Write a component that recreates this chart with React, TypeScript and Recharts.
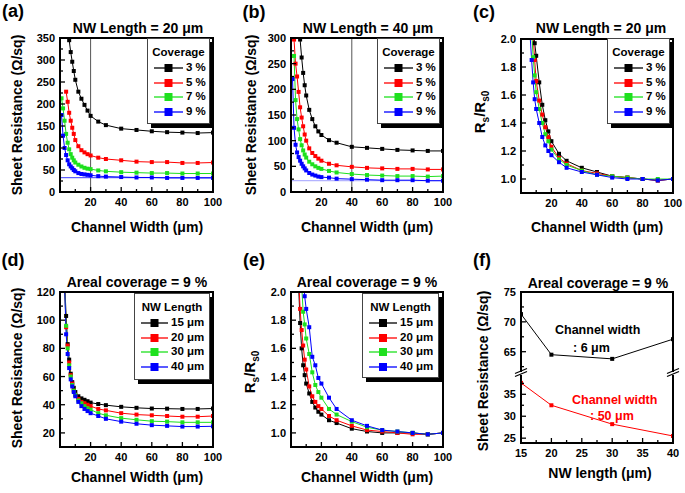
import React from "react";
import { LineChart, Line, XAxis, YAxis, ReferenceLine } from "recharts";

const FONT = "'Liberation Sans', Arial, Helvetica, sans-serif";
const _ = null;

// channel widths (um) used in panels a-e
const widths = [1, 2, 3, 4, 5, 6, 7, 8, 9, 10, 12, 14, 16, 18, 20, 25, 30, 40, 50, 60, 70, 80, 90, 100];

// (a) NW length 20 um, sheet resistance (ohm/sq) per coverage
const cov3A = [_, _, _, _, _, 345, 318, 296, 275, 255, 228, 212, 198, 185, 173, 160, 152, 144, 141, 138, 136, 135, 134, 135];
const cov5A = [_, _, _, 228, 205, 180, 162, 146, 132, 118, 104, 95, 90, 86, 83, 78, 75, 72, 69, 68, 68, 66, 66, 67];
const cov7A = [213, 190, 162, 132, 112, 97, 86, 78, 72, 67, 62, 58, 55, 53, 52, 49, 47, 45, 44, 43, 43, 42, 42, 42];
const cov9A = [175, 128, 100, 84, 72, 63, 58, 54, 50, 47, 43, 41, 40, 39, 38, 36, 35, 34, 33, 33, 32, 32, 32, 32];

// (b) NW length 40 um
const cov3B = [_, _, _, _, _, 297, 262, 232, 208, 188, 160, 142, 128, 118, 111, 101, 96, 88, 86, 84, 82, 81, 80, 80];
const cov5B = [_, 297, 250, 225, 195, 165, 145, 128, 112, 100, 85, 76, 70, 65, 61, 55, 52, 49, 47, 46, 45, 45, 44, 44];
const cov7B = [_, 265, 179, 142, 122, 103, 91, 81, 73, 67, 59, 54, 50, 47, 45, 41, 38, 35, 33, 32, 31, 31, 30, 31];
const cov9B = [220, 125, 92, 77, 68, 61, 55, 50, 46, 42, 37, 34, 32, 30, 29, 28, 26, 25, 24, 23, 23, 23, 22, 22];

// (c) Rs/Rs0, NW length 20 um
const ratio3C = [_, _, _, _, _, _, _, 2.05, 1.97, 1.88, 1.69, 1.53, 1.42, 1.34, 1.27, 1.18, 1.13, 1.08, 1.05, 1.02, 1.01, 1.0, 0.99, 1.0];
const ratio5C = [_, _, _, _, _, _, _, 2.02, 1.85, 1.7, 1.56, 1.46, 1.37, 1.3, 1.23, 1.15, 1.11, 1.06, 1.04, 1.02, 1.01, 1.0, 0.99, 1.0];
const ratio7C = [_, _, _, _, _, _, 2.05, 1.87, 1.74, 1.62, 1.5, 1.4, 1.32, 1.27, 1.21, 1.14, 1.1, 1.06, 1.03, 1.02, 1.01, 1.0, 1.0, 1.0];
const ratio9C = [_, _, _, _, _, 2.02, 1.85, 1.69, 1.57, 1.5, 1.4, 1.3, 1.24, 1.2, 1.17, 1.12, 1.08, 1.05, 1.03, 1.01, 1.0, 1.0, 0.99, 1.0];

// (d) areal coverage 9 %, sheet resistance per NW length
const len15D = [_, _, 128, 103, 83, 72, 62, 56, 52, 49, 46, 44.5, 43.5, 42.5, 41.5, 40.5, 39.7, 38.5, 37.8, 37.3, 37.2, 37, 37, 37.3];
const len20D = [_, _, 126, 95, 82, 70, 61, 55, 50, 47, 44, 42, 41, 40, 39, 37, 36, 34, 33, 32.5, 32, 31.5, 31.5, 32];
const len30D = [_, _, 125, 96, 80, 68, 60, 54, 50, 47, 43, 41, 39, 37.5, 36.5, 34, 32.5, 30.5, 29.3, 28.3, 28, 27.5, 27.5, 27.5];
const len40D = [_, _, 124, 90, 76, 66, 58, 53, 49, 46, 42, 39, 37, 35.5, 34, 32, 30, 28, 26.5, 25.5, 25, 24.5, 24.5, 24.7];

// (e) Rs/Rs0, areal coverage 9 %
const ratio15E = [_, _, _, _, 2.05, 1.78, 1.6, 1.48, 1.41, 1.35, 1.28, 1.22, 1.18, 1.15, 1.13, 1.09, 1.07, 1.03, 1.01, 1.0, 1.0, 1.0, 0.99, 1.0];
const ratio20E = [_, _, _, _, 2.1, 1.88, 1.73, 1.62, 1.52, 1.45, 1.33, 1.26, 1.22, 1.19, 1.17, 1.12, 1.09, 1.05, 1.02, 1.01, 1.0, 0.99, 0.99, 1.0];
const ratio30E = [_, _, _, _, _, _, 2.05, 1.86, 1.77, 1.67, 1.56, 1.43, 1.34, 1.29, 1.25, 1.17, 1.13, 1.08, 1.04, 1.02, 1.01, 1.0, 0.99, 1.0];
const ratio40E = [_, _, _, _, _, _, _, 2.1, 1.97, 1.88, 1.75, 1.54, 1.48, 1.39, 1.35, 1.25, 1.17, 1.09, 1.05, 1.02, 1.01, 1.0, 0.99, 1.0];

// (f) sheet resistance vs NW length
const nwLength = [15, 20, 30, 40];
const rsWidth6 = [71.3, 64.5, 63.8, 67.1];
const rsWidth50 = [37.6, 32.5, 28.2, 25.5];

// reference lines in a and b
const rs0LineA = 32.5;
const rs0LineB = 22;

// labels
const coverageLabels = ["3 %", "5 %", "7 %", "9 %"];
const lengthLabels = ["15 \u03bcm", "20 \u03bcm", "30 \u03bcm", "40 \u03bcm"];
const colors = ["#000000", "#ff0000", "#1ee01e", "#0000ff"];

// ticks
const xTicksW = [10, 20, 30, 40, 50, 60, 70, 80, 90, 100];
const xMajorW = [20, 40, 60, 80, 100];
const yTicksA = [0, 25, 50, 75, 100, 125, 150, 175, 200, 225, 250, 275, 300, 325, 350];
const yMajorA = [0, 50, 100, 150, 200, 250, 300, 350];
const yTicksB = [0, 25, 50, 75, 100, 125, 150, 175, 200, 225, 250, 275, 300];
const yMajorB = [0, 50, 100, 150, 200, 250, 300];
const yTicksR = [1.0, 1.1, 1.2, 1.3, 1.4, 1.5, 1.6, 1.7, 1.8, 1.9, 2.0];
const yMajorR = [1.0, 1.2, 1.4, 1.6, 1.8, 2.0];
const yTicksD = [20, 30, 40, 50, 60, 70, 80, 90, 100, 110, 120];
const yMajorD = [20, 40, 60, 80, 100, 120];
const xTicksF = [15, 17.5, 20, 22.5, 25, 27.5, 30, 32.5, 35, 37.5, 40];
const xMajorF = [15, 20, 25, 30, 35, 40];
const yTicksFUp = [62.5, 65, 67.5, 70, 72.5, 75];
const yMajorFUp = [65, 70, 75];
const yTicksFLo = [25, 27.5, 30, 32.5, 35, 37.5];
const yMajorFLo = [25, 30, 35];

type Series = { key: string; color: string; values: (number | null)[] };

const makeSeries = (vals: (number | null)[][]): Series[] =>
  vals.map((v, i) => ({ key: "s" + i, color: colors[i], values: v }));

const XTick = (p: any) => {
  const v = p.payload.value;
  const major = p.majors.includes(v);
  return (
    <g>
      <line x1={p.x} x2={p.x} y1={p.axisY} y2={p.axisY - (major ? 5 : 3)} stroke="#000" strokeWidth={1.3} />
      {major && (
        <text x={p.x} y={p.axisY + 13.5} textAnchor="middle" fontSize={11} fontWeight="bold" fontFamily={FONT} fill="#000">
          {v}
        </text>
      )}
    </g>
  );
};

const YTick = (p: any) => {
  const v = p.payload.value;
  const major = p.majors.includes(v);
  return (
    <g>
      <line x1={p.axisX} x2={p.axisX + (major ? 5 : 3)} y1={p.y} y2={p.y} stroke="#000" strokeWidth={1.3} />
      {major && (
        <text x={p.axisX - 5} y={p.y + 4} textAnchor="end" fontSize={11} fontWeight="bold" fontFamily={FONT} fill="#000">
          {p.fmt ? p.fmt(v) : v}
        </text>
      )}
    </g>
  );
};

const squareDot = (color: string, size: number) => (p: any) => {
  if (p.cx == null || p.cy == null || p.payload == null) return <g key={"d" + p.index} />;
  return <rect key={"d" + p.index} x={p.cx - size / 2} y={p.cy - size / 2} width={size} height={size} fill={color} />;
};

interface Box { left: number; top: number; w: number; h: number }

interface PanelProps {
  box: Box;
  xs: number[];
  series: Series[];
  xDomain: [number, number];
  yDomain: [number, number];
  xTicks: number[];
  xMajor: number[];
  yTicks: number[];
  yMajor: number[];
  yFmt?: (v: number) => string;
  hideX?: boolean;
  clip?: boolean;
  refX?: number;
  refY?: number;
  refYColor?: string;
  frame?: "full" | "upper" | "lower";
  dotSize?: number;
}

function Panel(props: PanelProps) {
  const { box, xs, series, xDomain, yDomain, xTicks, xMajor, yTicks, yMajor, yFmt, hideX = false, clip = false, refX, refY, refYColor, frame = "full", dotSize = 4 } = props;
  const YW = 36, MT = 6, MR = 14, XH = hideX ? 0 : 24;
  const data = xs.map((x, i) => {
    const row: any = { x };
    series.forEach((s) => (row[s.key] = s.values[i]));
    return row;
  });
  const axisY = MT + box.h;
  const border = "2px solid #000";
  const frameStyle: React.CSSProperties = {
    position: "absolute",
    left: box.left - 1,
    top: frame === "lower" ? box.top : box.top - 1,
    width: box.w + 2,
    height: frame === "full" ? box.h + 2 : box.h + 1,
    borderLeft: border,
    borderRight: border,
    borderTop: frame === "lower" ? "none" : border,
    borderBottom: frame === "upper" ? "none" : border,
    boxSizing: "border-box",
  };
  return (
    <>
      <div style={{ position: "absolute", left: box.left - YW, top: box.top - MT }}>
        <LineChart width={YW + box.w + MR} height={MT + box.h + XH} data={data} margin={{ top: MT, right: MR, left: 0, bottom: 0 }}>
          <XAxis
            type="number"
            dataKey="x"
            domain={xDomain}
            ticks={xTicks}
            interval={0}
            hide={hideX}
            height={XH}
            axisLine={false}
            tickLine={false}
            tickSize={0}
            tick={<XTick axisY={axisY} majors={xMajor} />}
            allowDataOverflow
          />
          <YAxis
            type="number"
            domain={yDomain}
            ticks={yTicks}
            interval={0}
            width={YW}
            axisLine={false}
            tickLine={false}
            tickSize={0}
            tick={<YTick axisX={YW} majors={yMajor} fmt={yFmt} />}
            allowDataOverflow={clip}
          />
          {refX !== undefined && <ReferenceLine x={refX} stroke="#555" strokeWidth={1} />}
          {refY !== undefined && <ReferenceLine y={refY} stroke={refYColor} strokeWidth={1} />}
          {series.map((s) => (
            <Line
              key={s.key}
              dataKey={s.key}
              type="linear"
              stroke={s.color}
              strokeWidth={1}
              dot={squareDot(s.color, dotSize)}
              isAnimationActive={false}
              connectNulls={false}
            />
          ))}
        </LineChart>
      </div>
      <div style={frameStyle} />
    </>
  );
}

function Txt({ x, y, children, size = 14, rotate = false, color = "#000", center = true }: any) {
  return (
    <div
      style={{
        position: "absolute",
        left: x,
        top: y,
        transform: center ? `translate(-50%, -50%)${rotate ? " rotate(-90deg)" : ""}` : "translateY(-50%)",
        fontSize: size,
        fontWeight: "bold",
        fontFamily: FONT,
        whiteSpace: "nowrap",
        lineHeight: 1,
        color,
      }}
    >
      {children}
    </div>
  );
}

function LegendBox({ left, top, w, h, title, labels, lineL, lineR, textX }: any) {
  return (
    <div
      style={{
        position: "absolute",
        left,
        top,
        width: w,
        height: h,
        background: "#fff",
        border: "1px solid #444",
        boxShadow: "4px 4px 0 #000",
        boxSizing: "border-box",
        fontFamily: FONT,
        fontWeight: "bold",
        fontSize: 11.5,
      }}
    >
      <div style={{ position: "absolute", left: 0, right: 0, top: 14, transform: "translateY(-50%)", textAlign: "center", lineHeight: 1 }}>{title}</div>
      {labels.map((lab: string, i: number) => {
        const cy = 29 + i * 14.5;
        const lw = lineR - lineL;
        return (
          <React.Fragment key={lab}>
            <svg style={{ position: "absolute", left: lineL, top: cy - 5 }} width={lw} height={10}>
              <line x1={0} x2={lw} y1={5} y2={5} stroke={colors[i]} strokeWidth={1.3} />
              <rect x={lw / 2 - 4} y={1} width={8} height={8} fill={colors[i]} />
            </svg>
            <div style={{ position: "absolute", left: textX, top: cy, transform: "translateY(-50%)", lineHeight: 1 }}>{lab}</div>
          </React.Fragment>
        );
      })}
    </div>
  );
}

const ratioFmt = (v: number) => v.toFixed(1);
const RsRatio = () => (
  <span>
    R<sub style={{ fontSize: 10 }}>s</sub>/R<sub style={{ fontSize: 10 }}>s0</sub>
  </span>
);
const sheetTitle = "Sheet Resistance (\u03a9/sq)";
const widthTitle = "Channel Width (\u03bcm)";

export default function App() {
  return (
    <div style={{ position: "absolute", left: 0, top: 0, width: 685, height: 493, background: "#fff", overflow: "hidden", fontFamily: FONT }}>
      {/* panel labels */}
      <Txt x={13} y={11} size={18}>(a)</Txt>
      <Txt x={254} y={12} size={18}>(b)</Txt>
      <Txt x={484} y={12} size={18}>(c)</Txt>
      <Txt x={13} y={260} size={18}>(d)</Txt>
      <Txt x={254} y={260} size={18}>(e)</Txt>
      <Txt x={482} y={260} size={18}>(f)</Txt>

      {/* (a) */}
      <Txt x={138} y={28}>NW Length = 20 {"\u03bc"}m</Txt>
      <Panel
        box={{ left: 60, top: 38, w: 153, h: 154 }}
        xs={widths}
        series={makeSeries([cov3A, cov5A, cov7A, cov9A])}
        xDomain={[0, 100]}
        yDomain={[0, 350]}
        xTicks={xTicksW}
        xMajor={xMajorW}
        yTicks={yTicksA}
        yMajor={yMajorA}
        refX={20}
        refY={rs0LineA}
        refYColor="#3a3aff"
      />
      <LegendBox left={147} top={38} w={63} h={86} title="Coverage" labels={coverageLabels} lineL={6} lineR={35} textX={38} />
      <Txt x={17} y={115} rotate>{sheetTitle}</Txt>
      <Txt x={137} y={227}>{widthTitle}</Txt>

      {/* (b) */}
      <Txt x={368} y={28}>NW Length = 40 {"\u03bc"}m</Txt>
      <Panel
        box={{ left: 291, top: 38, w: 152, h: 154 }}
        xs={widths}
        series={makeSeries([cov3B, cov5B, cov7B, cov9B])}
        xDomain={[0, 100]}
        yDomain={[0, 300]}
        xTicks={xTicksW}
        xMajor={xMajorW}
        yTicks={yTicksB}
        yMajor={yMajorB}
        refX={40}
        refY={rs0LineB}
        refYColor="#a0a0ff"
      />
      <LegendBox left={377} top={38} w={63} h={86} title="Coverage" labels={coverageLabels} lineL={6} lineR={35} textX={38} />
      <Txt x={251} y={115} rotate>{sheetTitle}</Txt>
      <Txt x={367} y={227}>{widthTitle}</Txt>

      {/* (c) */}
      <Txt x={601} y={28}>NW Length = 20 {"\u03bc"}m</Txt>
      <Panel
        box={{ left: 521, top: 39, w: 152, h: 154 }}
        xs={widths}
        series={makeSeries([ratio3C, ratio5C, ratio7C, ratio9C])}
        xDomain={[0, 100]}
        yDomain={[0.9, 2.0]}
        xTicks={xTicksW}
        xMajor={xMajorW}
        yTicks={yTicksR}
        yMajor={yMajorR}
        yFmt={ratioFmt}
        clip
      />
      <LegendBox left={607} top={38} w={63} h={86} title="Coverage" labels={coverageLabels} lineL={6} lineR={35} textX={38} />
      <Txt x={481} y={112} size={15} rotate><RsRatio /></Txt>
      <Txt x={597} y={227}>{widthTitle}</Txt>

      {/* (d) */}
      <Txt x={137} y={282}>Areal coverage = 9 %</Txt>
      <Panel
        box={{ left: 60, top: 292, w: 153, h: 155 }}
        xs={widths}
        series={makeSeries([len15D, len20D, len30D, len40D])}
        xDomain={[0, 100]}
        yDomain={[10, 120]}
        xTicks={xTicksW}
        xMajor={xMajorW}
        yTicks={yTicksD}
        yMajor={yMajorD}
        clip
      />
      <LegendBox left={134} top={293} w={76} h={87} title="NW Length" labels={lengthLabels} lineL={6} lineR={33} textX={36} />
      <Txt x={17} y={368} rotate>{sheetTitle}</Txt>
      <Txt x={137} y={477}>{widthTitle}</Txt>

      {/* (e) */}
      <Txt x={367} y={282}>Areal coverage = 9 %</Txt>
      <Panel
        box={{ left: 291, top: 292, w: 152, h: 155 }}
        xs={widths}
        series={makeSeries([ratio15E, ratio20E, ratio30E, ratio40E])}
        xDomain={[0, 100]}
        yDomain={[0.9, 2.0]}
        xTicks={xTicksW}
        xMajor={xMajorW}
        yTicks={yTicksR}
        yMajor={yMajorR}
        yFmt={ratioFmt}
        clip
      />
      <LegendBox left={362} top={293} w={77} h={85} title="NW Length" labels={lengthLabels} lineL={6} lineR={34} textX={37} />
      <Txt x={251} y={372} size={15} rotate><RsRatio /></Txt>
      <Txt x={367} y={477}>{widthTitle}</Txt>

      {/* (f) broken axis: upper and lower parts */}
      <Txt x={598} y={283}>Areal coverage = 9 %</Txt>
      <Panel
        box={{ left: 521, top: 292, w: 152, h: 80 }}
        xs={nwLength}
        series={[{ key: "w6", color: "#000000", values: rsWidth6 }]}
        xDomain={[15, 40]}
        yDomain={[61.6, 75]}
        xTicks={xTicksF}
        xMajor={xMajorF}
        yTicks={yTicksFUp}
        yMajor={yMajorFUp}
        hideX
        frame="upper"
        dotSize={4}
      />
      <Panel
        box={{ left: 521, top: 375, w: 152, h: 68 }}
        xs={nwLength}
        series={[{ key: "w50", color: "#ff0000", values: rsWidth50 }]}
        xDomain={[15, 40]}
        yDomain={[23.9, 39.4]}
        xTicks={xTicksF}
        xMajor={xMajorF}
        yTicks={yTicksFLo}
        yMajor={yMajorFLo}
        frame="lower"
        dotSize={4}
      />
      <svg style={{ position: "absolute", left: 505, top: 360 }} width={180} height={30}>
        <line x1={10} y1={13.5} x2={22} y2={8.5} stroke="#000" strokeWidth={1.3} />
        <line x1={10} y1={16.5} x2={22} y2={11.5} stroke="#000" strokeWidth={1.3} />
        <line x1={162} y1={13.5} x2={174} y2={8.5} stroke="#000" strokeWidth={1.3} />
        <line x1={162} y1={16.5} x2={174} y2={11.5} stroke="#000" strokeWidth={1.3} />
      </svg>
      <Txt x={555} y={330} size={12.5} center={false}>Channel width</Txt>
      <Txt x={573} y={348} size={12.5} center={false}>: 6 {"\u03bc"}m</Txt>
      <Txt x={572} y={400} size={12.5} center={false} color="#ff0000">Channel width</Txt>
      <Txt x={590} y={416} size={12.5} center={false} color="#ff0000">: 50 {"\u03bc"}m</Txt>
      <Txt x={483} y={371} rotate>{sheetTitle}</Txt>
      <Txt x={600} y={473}>NW length ({"\u03bc"}m)</Txt>
    </div>
  );
}
